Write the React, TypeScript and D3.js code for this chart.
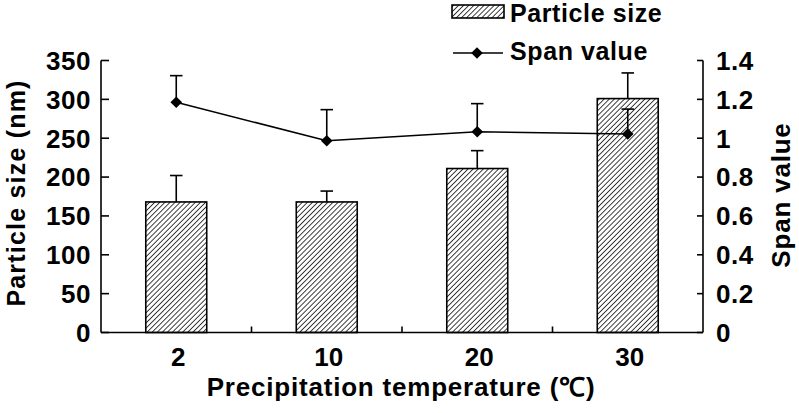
import React from "react";
import * as d3 from "d3";

const categories = ["2", "10", "20", "30"];
const particleSize = [168, 168, 211, 301];
const particleErr = [34, 14, 23, 33];
const spanValue = [1.185, 0.987, 1.033, 1.022];
const spanErr = [0.137, 0.16, 0.145, 0.128];
const leftTicks = [0, 50, 100, 150, 200, 250, 300, 350];
const rightTicks = [0, 0.2, 0.4, 0.6, 0.8, 1.0, 1.2, 1.4];

const W = 799;
const H = 413;
const X0 = 101;
const X1 = 703;
const Y0 = 332.5;
const Y1 = 60.5;
const FONT = "'Liberation Sans', Arial, Helvetica, sans-serif";

export default function App() {
  const x = d3.scaleBand<string>().domain(categories).range([X0, X1]).padding(0);
  const yL = d3.scaleLinear().domain([0, 350]).range([Y0, Y1]);
  const yR = d3.scaleLinear().domain([0, 1.4]).range([Y0, Y1]);
  const barW = x.bandwidth() * 0.405;
  const cx = (c: string) => (x(c) as number) + x.bandwidth() / 2;
  const line = d3
    .line<number>()
    .x((_, i) => cx(categories[i]))
    .y((d) => yR(d));
  const diamond = (px: number, py: number, r = 5.8) =>
    `M${px},${py - r}L${px + r},${py}L${px},${py + r}L${px - r},${py}Z`;
  const fmtR = (v: number) => (v === 0 ? "0" : v === 1 ? "1" : d3.format(".1f")(v));
  const capW = 12.5;
  const hp = 3.6;

  return (
    <div style={{ position: "fixed", left: 0, top: 0 }}>
      <svg width={W} height={H} style={{ display: "block", background: "#fff" }}>
        <defs>
          <pattern id="hatch" patternUnits="userSpaceOnUse" width={hp} height={hp} patternTransform="rotate(45)">
            <rect width={hp} height={hp} fill="#fff" />
            <line x1={0} y1={0} x2={0} y2={hp} stroke="#000" strokeWidth={1.5} />
          </pattern>
        </defs>

        {/* bars */}
        {categories.map((c, i) => (
          <g key={"b" + c}>
            <line
              x1={cx(c)}
              x2={cx(c)}
              y1={yL(particleSize[i])}
              y2={yL(particleSize[i] + particleErr[i])}
              stroke="#000"
              strokeWidth={1.6}
            />
            <line
              x1={cx(c) - capW / 2}
              x2={cx(c) + capW / 2}
              y1={yL(particleSize[i] + particleErr[i])}
              y2={yL(particleSize[i] + particleErr[i])}
              stroke="#000"
              strokeWidth={1.6}
            />
            <rect
              x={cx(c) - barW / 2}
              y={yL(particleSize[i])}
              width={barW}
              height={Y0 - yL(particleSize[i])}
              fill="url(#hatch)"
              stroke="#000"
              strokeWidth={1.6}
            />
          </g>
        ))}

        {/* span line */}
        <path d={line(spanValue) || ""} fill="none" stroke="#000" strokeWidth={1.5} />
        {categories.map((c, i) => (
          <g key={"s" + c}>
            <line
              x1={cx(c)}
              x2={cx(c)}
              y1={yR(spanValue[i])}
              y2={yR(spanValue[i] + spanErr[i])}
              stroke="#000"
              strokeWidth={1.6}
            />
            <line
              x1={cx(c) - capW / 2}
              x2={cx(c) + capW / 2}
              y1={yR(spanValue[i] + spanErr[i])}
              y2={yR(spanValue[i] + spanErr[i])}
              stroke="#000"
              strokeWidth={1.6}
            />
            <path d={diamond(cx(c), yR(spanValue[i]))} fill="#000" />
          </g>
        ))}

        {/* axes */}
        <line x1={X0} x2={X0} y1={Y1} y2={Y0} stroke="#000" strokeWidth={1.6} />
        <line x1={X1} x2={X1} y1={Y1} y2={Y0} stroke="#000" strokeWidth={1.6} />
        <line x1={X0} x2={X1} y1={Y0} y2={Y0} stroke="#000" strokeWidth={1.6} />
        {categories.slice(1).map((c) => (
          <line key={"xt" + c} x1={x(c)} x2={x(c)} y1={Y0} y2={Y0 - 6} stroke="#000" strokeWidth={1.6} />
        ))}
        {leftTicks.map((t) => (
          <g key={"l" + t}>
            <line x1={X0} x2={X0 + 8} y1={yL(t)} y2={yL(t)} stroke="#000" strokeWidth={1.6} />
            <text
              x={91}
              y={yL(t)}
              dy="0.36em"
              textAnchor="end"
              fontFamily={FONT}
              fontWeight="bold"
              fontSize={26}
              letterSpacing={0.5}
            >
              {t}
            </text>
          </g>
        ))}
        {rightTicks.map((t) => (
          <g key={"r" + t}>
            <line x1={X1 - 6} x2={X1} y1={yR(t)} y2={yR(t)} stroke="#000" strokeWidth={1.6} />
            <text
              x={716}
              y={yR(t)}
              dy="0.36em"
              textAnchor="start"
              fontFamily={FONT}
              fontWeight="bold"
              fontSize={26}
              letterSpacing={0.5}
            >
              {fmtR(t)}
            </text>
          </g>
        ))}
        {categories.map((c) => (
          <text
            key={"xl" + c}
            x={cx(c) + 2}
            y={365.5}
            textAnchor="middle"
            fontFamily={FONT}
            fontWeight="bold"
            fontSize={26}
          >
            {c}
          </text>
        ))}

        {/* titles */}
        <text
          x={401}
          y={396}
          textAnchor="middle"
          fontFamily={FONT}
          fontWeight="bold"
          fontSize={26}
          letterSpacing={0.8}
        >
          Precipitation temperature (℃)
        </text>
        <text
          transform="translate(25,193) rotate(-90)"
          textAnchor="middle"
          fontFamily={FONT}
          fontWeight="bold"
          fontSize={25}
          letterSpacing={1.2}
        >
          Particle size (nm)
        </text>
        <text
          transform="translate(790,195) rotate(-90)"
          textAnchor="middle"
          fontFamily={FONT}
          fontWeight="bold"
          fontSize={26}
          letterSpacing={0.8}
        >
          Span value
        </text>

        {/* legend */}
        <rect x={452} y={5} width={52} height={13} fill="url(#hatch)" stroke="#000" strokeWidth={1.6} />
        <text x={510} y={22} fontFamily={FONT} fontWeight="bold" fontSize={25} letterSpacing={0.6}>
          Particle size
        </text>
        <line x1={453} x2={503} y1={53} y2={53} stroke="#000" strokeWidth={1.6} />
        <path d={diamond(477, 53)} fill="#000" />
        <text x={510} y={60} fontFamily={FONT} fontWeight="bold" fontSize={25} letterSpacing={0.6}>
          Span value
        </text>
      </svg>
    </div>
  );
}
